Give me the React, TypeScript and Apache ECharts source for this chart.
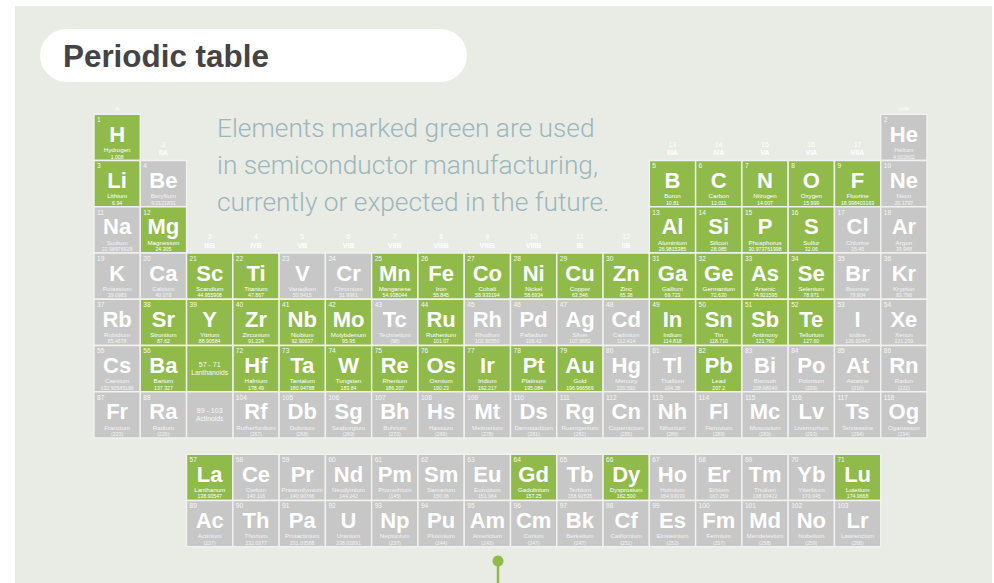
import React, { useEffect, useRef } from "react";
import * as echarts from "echarts";

const SYMBOLS = [
  "H","He","Li","Be","B","C","N","O","F","Ne","Na","Mg","Al","Si","P","S","Cl","Ar",
  "K","Ca","Sc","Ti","V","Cr","Mn","Fe","Co","Ni","Cu","Zn","Ga","Ge","As","Se","Br","Kr",
  "Rb","Sr","Y","Zr","Nb","Mo","Tc","Ru","Rh","Pd","Ag","Cd","In","Sn","Sb","Te","I","Xe",
  "Cs","Ba","La","Ce","Pr","Nd","Pm","Sm","Eu","Gd","Tb","Dy","Ho","Er","Tm","Yb","Lu",
  "Hf","Ta","W","Re","Os","Ir","Pt","Au","Hg","Tl","Pb","Bi","Po","At","Rn",
  "Fr","Ra","Ac","Th","Pa","U","Np","Pu","Am","Cm","Bk","Cf","Es","Fm","Md","No","Lr",
  "Rf","Db","Sg","Bh","Hs","Mt","Ds","Rg","Cn","Nh","Fl","Mc","Lv","Ts","Og"
];

const NAMES = [
  "Hydrogen","Helium","Lithium","Beryllium","Boron","Carbon","Nitrogen","Oxygen","Fluorine","Neon",
  "Sodium","Magnesium","Aluminium","Silicon","Phosphorus","Sulfur","Chlorine","Argon",
  "Potassium","Calcium","Scandium","Titanium","Vanadium","Chromium","Manganese","Iron","Cobalt","Nickel",
  "Copper","Zinc","Gallium","Germanium","Arsenic","Selenium","Bromine","Krypton",
  "Rubidium","Strontium","Yttrium","Zirconium","Niobium","Molybdenum","Technetium","Ruthenium","Rhodium",
  "Palladium","Silver","Cadmium","Indium","Tin","Antimony","Tellurium","Iodine","Xenon",
  "Caesium","Barium","Lanthanum","Cerium","Praseodymium","Neodymium","Promethium","Samarium","Europium",
  "Gadolinium","Terbium","Dysprosium","Holmium","Erbium","Thulium","Ytterbium","Lutetium",
  "Hafnium","Tantalum","Tungsten","Rhenium","Osmium","Iridium","Platinum","Gold","Mercury","Thallium",
  "Lead","Bismuth","Polonium","Astatine","Radon",
  "Francium","Radium","Actinium","Thorium","Protactinium","Uranium","Neptunium","Plutonium","Americium",
  "Curium","Berkelium","Californium","Einsteinium","Fermium","Mendelevium","Nobelium","Lawrencium",
  "Rutherfordium","Dubnium","Seaborgium","Bohrium","Hassium","Meitnerium","Darmstadtium","Roentgenium",
  "Copernicium","Nihonium","Flerovium","Moscovium","Livermorium","Tennessine","Oganesson"
];

const WEIGHTS = [
  "1.008","4.002602","6.94","9.0121831","10.81","12.011","14.007","15.999","18.998403163","20.1797",
  "22.98976928","24.305","26.9815385","28.085","30.973761998","32.06","35.45","39.948",
  "39.0983","40.078","44.955908","47.867","50.9415","51.9961","54.938044","55.845","58.933194","58.6934",
  "63.546","65.38","69.723","72.630","74.921595","78.971","79.904","83.798",
  "85.4678","87.62","88.90584","91.224","92.90637","95.95","(98)","101.07","102.90550",
  "106.42","107.8682","112.414","114.818","118.710","121.760","127.60","126.90447","131.293",
  "132.90545196","137.327","138.90547","140.116","140.90766","144.242","(145)","150.36","151.964",
  "157.25","158.92535","162.500","164.93033","167.259","168.93422","173.045","174.9668",
  "178.49","180.94788","183.84","186.207","190.23","192.217","195.084","196.966569","200.592","204.38",
  "207.2","208.98040","(209)","(210)","(222)",
  "(223)","(226)","(227)","232.0377","231.03588","238.02891","(237)","(244)","(243)",
  "(247)","(247)","(251)","(252)","(257)","(258)","(259)","(266)",
  "(267)","(268)","(269)","(270)","(269)","(278)","(281)","(282)",
  "(285)","(286)","(289)","(289)","(293)","(294)","(294)"
];

// atomic numbers of elements marked green
const GREEN_ELEMENTS = [
  1, 3, 5, 6, 7, 8, 9, 12, 13, 14, 15, 16, 21, 22, 25, 26, 27, 28, 29, 30, 31, 32, 33, 34,
  38, 39, 40, 41, 42, 44, 49, 50, 51, 52, 56, 57, 64, 66, 71, 72, 73, 74, 75, 76, 77, 78, 79, 82
];

const GROUP_NUMBERS = ["1","2","3","4","5","6","7","8","9","10","11","12","13","14","15","16","17","18"];
const GROUP_ROMAN = ["IA","IIA","IIIB","IVB","VB","VIB","VIIB","VIIIB","VIIIB","VIIIB","IB","IIB","IIIA","IVA","VA","VIA","VIIA","VIIIA"];
const GROUP_TOP_ROW = [1, 2, 4, 4, 4, 4, 4, 4, 4, 4, 4, 4, 2, 2, 2, 2, 2, 1];

const PLACEHOLDERS = [
  { col: 3, row: 6, range: "57 - 71", label: "Lanthanoids", green: true },
  { col: 3, row: 7, range: "89 - 103", label: "Actinoids", green: false },
];

const SUBTITLE_LINES = [
  "Elements marked green are used",
  "in semiconductor manufacturing,",
  "currently or expected in the future.",
];

const LANTH_ROW = 8.35;
const ACT_ROW = 9.35;

function position(z: number): [number, number] {
  if (z === 1) return [1, 1];
  if (z === 2) return [18, 1];
  if (z <= 4) return [z - 2, 2];
  if (z <= 10) return [z + 8, 2];
  if (z <= 12) return [z - 10, 3];
  if (z <= 18) return [z, 3];
  if (z <= 36) return [z - 18, 4];
  if (z <= 54) return [z - 36, 5];
  if (z <= 56) return [z - 54, 6];
  if (z <= 71) return [z - 54, LANTH_ROW];
  if (z <= 86) return [z - 68, 6];
  if (z <= 88) return [z - 86, 7];
  if (z <= 103) return [z - 86, ACT_ROW];
  return [z - 100, 7];
}

const GREEN = "#90bb4a";
const GRAY = "#c7c7c7";
const BG = "#e9ebe5";
const FONT = "'Liberation Sans', Arial, sans-serif";

function txt(text: string, x: number, y: number, size: number, opts: any = {}) {
  const align = opts.align || "center";
  return {
    type: "text",
    silent: true,
    style: {
      text,
      x,
      y,
      fill: opts.fill || "#ffffff",
      fontSize: size,
      fontFamily: FONT,
      fontWeight: opts.weight || "normal",
      align,
      textAlign: align,
      verticalAlign: "middle",
      textVerticalAlign: "middle",
    },
  };
}

export default function App() {
  const ref = useRef<HTMLDivElement>(null);

  useEffect(() => {
    if (!ref.current) return;
    const chart = echarts.init(ref.current, undefined, { renderer: "svg" });

    const elementData = SYMBOLS.map((s, i) => {
      const z = i + 1;
      const [c, r] = position(z);
      return [c, r, z];
    });

    const renderElement = (params: any, api: any) => {
      const col = api.value(0);
      const row = api.value(1);
      const z = api.value(2);
      const idx = z - 1;
      const [cx, cy] = api.coord([col, row]);
      const [w, h] = api.size([1, 1]);
      const x = cx - w / 2;
      const y = cy - h / 2;
      const green = GREEN_ELEMENTS.indexOf(z) >= 0;
      const sub = green ? "#ffffff" : "#f4f4f4";
      return {
        type: "group",
        children: [
          {
            type: "rect",
            shape: { x, y, width: w, height: h },
            style: { fill: green ? GREEN : GRAY, stroke: "#f1f2ef", lineWidth: 1.4 },
          },
          txt(String(z), x + 3, y + 5.4, 6.6, { align: "left", fill: "#f7f7f7" }),
          txt(SYMBOLS[idx], cx, y + 20.2, 22, { weight: "bold" }),
          txt(NAMES[idx], cx, y + 35.4, 6.2, { fill: sub }),
          txt(WEIGHTS[idx], cx, y + 42.2, 5.2, { fill: sub }),
        ],
      };
    };

    const placeholderData = PLACEHOLDERS.map((p, i) => [p.col, p.row, i]);
    const renderPlaceholder = (params: any, api: any) => {
      const i = api.value(2);
      const p = PLACEHOLDERS[i];
      const [cx, cy] = api.coord([api.value(0), api.value(1)]);
      const [w, h] = api.size([1, 1]);
      const x = cx - w / 2;
      const y = cy - h / 2;
      return {
        type: "group",
        children: [
          {
            type: "rect",
            shape: { x, y, width: w, height: h },
            style: { fill: p.green ? GREEN : GRAY, stroke: "#f1f2ef", lineWidth: 1.4 },
          },
          txt(p.range, cx, y + 18.5, 7, { fill: "#f7f7f7" }),
          txt(p.label, cx, y + 27, 6.8, { fill: "#f7f7f7" }),
        ],
      };
    };

    const groupData = GROUP_NUMBERS.map((g, i) => [i + 1, GROUP_TOP_ROW[i], i]);
    const renderGroup = (params: any, api: any) => {
      const i = api.value(2);
      const [cx, cy] = api.coord([api.value(0), api.value(1)]);
      const [, h] = api.size([1, 1]);
      const top = cy - h / 2;
      if (GROUP_TOP_ROW[i] === 1) {
        return {
          type: "group",
          children: [txt(GROUP_ROMAN[i], cx, top - 5, 4.5, { fill: "#ffffff" })],
        };
      }
      return {
        type: "group",
        children: [
          txt(GROUP_NUMBERS[i], cx, top - 16.5, 7, { fill: "#ffffff" }),
          txt(GROUP_ROMAN[i], cx, top - 8, 7, { fill: "#ffffff", weight: "bold" }),
        ],
      };
    };

    const option: any = {
      animation: false,
      backgroundColor: "#ffffff",
      grid: { left: 94, top: 114.3, width: 833, height: 432.4, containLabel: false },
      xAxis: { type: "value", min: 0.5, max: 18.5, show: false },
      yAxis: { type: "value", min: 0.5, max: 9.85, inverse: true, show: false },
      graphic: [
        { type: "rect", z: 0, silent: true, shape: { x: 15, y: 6, width: 977, height: 590 }, style: { fill: BG } },
        { type: "rect", z: 1, silent: true, shape: { x: 40, y: 29, width: 427, height: 53, r: 26.5 }, style: { fill: "#ffffff" } },
        {
          type: "text", z: 2, silent: true,
          style: {
            text: "Periodic table", x: 63, y: 56, fill: "#454345",
            fontSize: 31.4, fontWeight: "bold", fontFamily: FONT,
            align: "left", textAlign: "left", verticalAlign: "middle", textVerticalAlign: "middle",
          },
        },
        ...SUBTITLE_LINES.map((line, i) => ({
          type: "text", z: 2, silent: true,
          style: {
            text: line, x: 217, y: 128 + i * 37, fill: "#9db6bb",
            fontSize: 26.3, fontWeight: 300, fontFamily: "Roboto, 'Liberation Sans', sans-serif",
            align: "left", textAlign: "left", verticalAlign: "middle", textVerticalAlign: "middle",
          },
        })),
        { type: "line", z: 2, silent: true, shape: { x1: 498, y1: 561, x2: 498, y2: 590 }, style: { stroke: GREEN, lineWidth: 2.5 } },
        { type: "circle", z: 3, silent: true, shape: { cx: 498, cy: 561, r: 5.5 }, style: { fill: GREEN } },
      ],
      series: [
        { type: "custom", coordinateSystem: "cartesian2d", renderItem: renderElement, data: elementData, encode: { x: 0, y: 1 }, clip: false, silent: true },
        { type: "custom", coordinateSystem: "cartesian2d", renderItem: renderPlaceholder, data: placeholderData, encode: { x: 0, y: 1 }, clip: false, silent: true },
        { type: "custom", coordinateSystem: "cartesian2d", renderItem: renderGroup, data: groupData, encode: { x: 0, y: 1 }, clip: false, silent: true },
      ],
    };

    chart.setOption(option);
    return () => chart.dispose();
  }, []);

  return (
    <div
      ref={ref}
      style={{ position: "absolute", left: 0, top: 0, width: 994, height: 583 }}
    />
  );
}
